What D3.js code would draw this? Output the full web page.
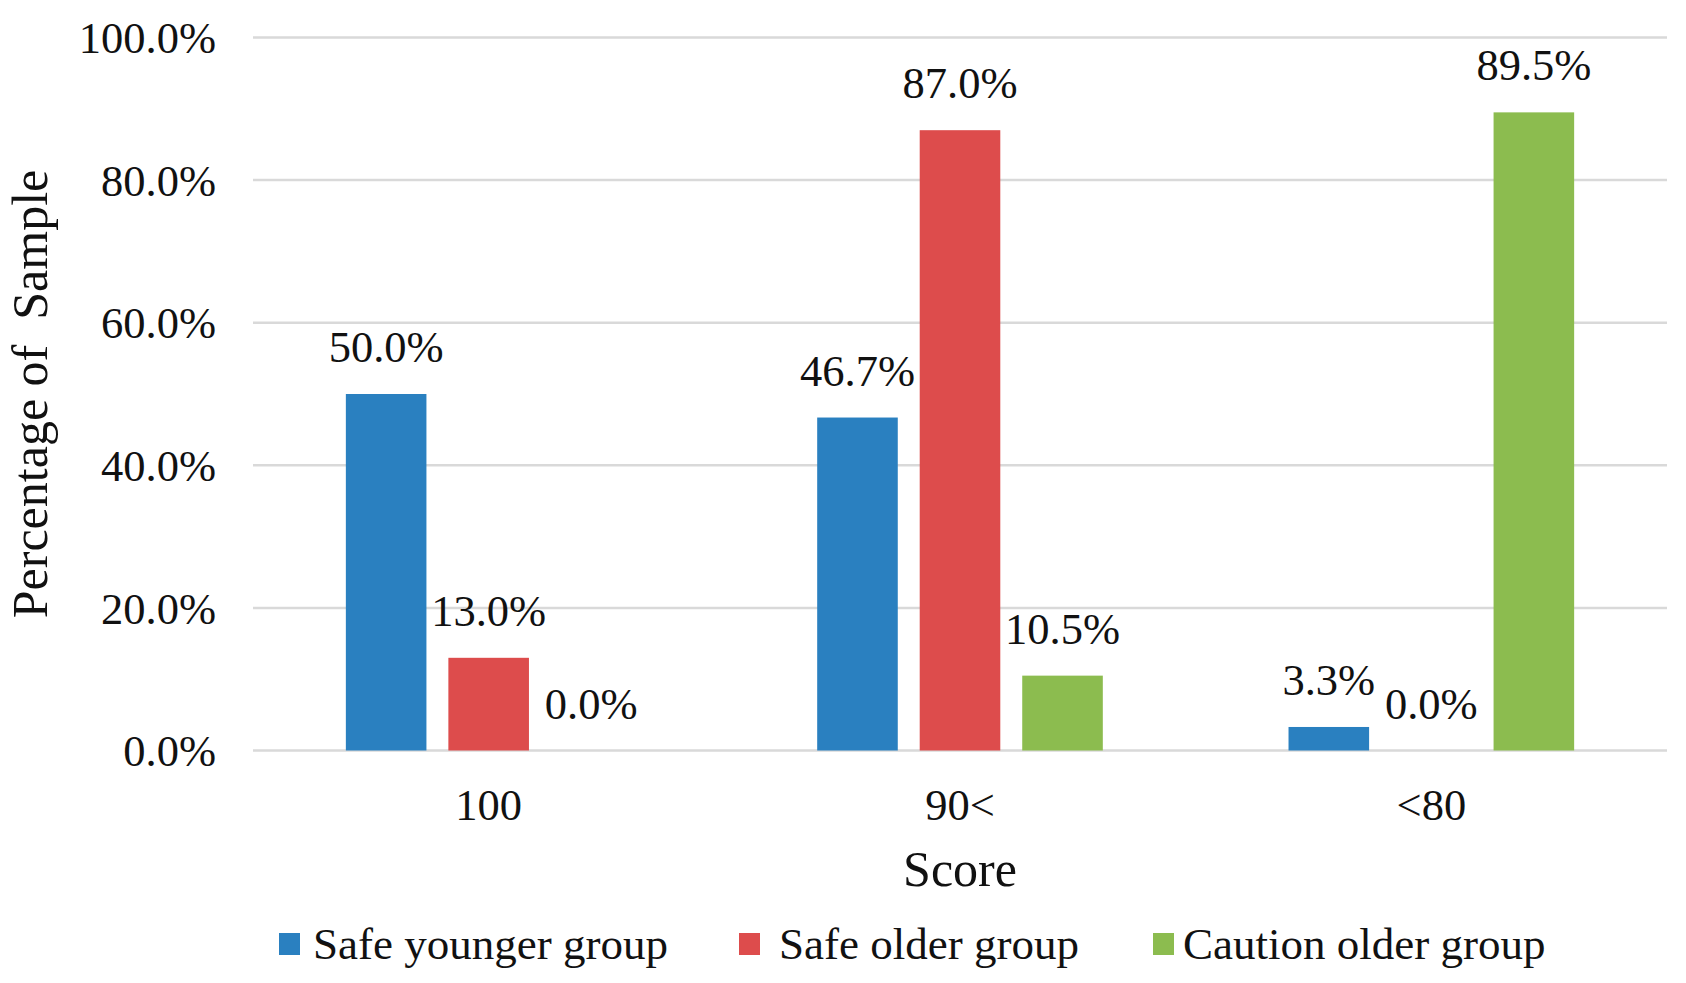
<!DOCTYPE html>
<html><head><meta charset="utf-8">
<script src="https://cdn.jsdelivr.net/npm/d3@7"></script>
<style>body{margin:0;background:#fff}svg{display:block}text{font-family:"Liberation Serif","Times New Roman",serif;fill:#111}</style>
</head><body>
<svg id="c" width="1686" height="983"></svg>
<script>
const categories = ["100", "90<", "<80"];
const seriesNames = ["Safe younger group", "Safe older group", "Caution older group"];
const seriesColors = ["#2A80C0", "#DD4C4C", "#8CBC4F"];
const safeYounger = [50.0, 46.7, 3.3];
const safeOlder = [13.0, 87.0, 0.0];
const cautionOlder = [0.0, 10.5, 89.5];
const yTicks = [0, 20, 40, 60, 80, 100];
const seriesValues = [safeYounger, safeOlder, cautionOlder];

(function () {
const svg = d3.select("#c");
const pl = 253, pr = 1667, pt = 37.5, pb = 750.5;
const fs = 44.5;

const x0 = d3.scaleBand().domain(categories).range([pl, pr]).paddingInner(0.394).paddingOuter(0.197);
const x1 = d3.scaleBand().domain(seriesNames).range([0, x0.bandwidth()]).paddingInner(0.214).paddingOuter(0);
const y = d3.scaleLinear().domain([0, 100]).range([pb, pt]);
const fmt = v => d3.format(".1f")(v) + "%";

// gridlines
svg.append("g").selectAll("line").data(yTicks).join("line")
  .attr("x1", pl).attr("x2", pr)
  .attr("y1", d => y(d)).attr("y2", d => y(d))
  .attr("stroke", "#D9D9D9").attr("stroke-width", 2.5);

// y axis labels
const yAxis = d3.axisLeft(y).tickValues(yTicks).tickFormat(fmt).tickSize(0).tickPadding(0);
const gy = svg.append("g").attr("transform", `translate(${pl - 37},0)`).call(yAxis);
gy.select(".domain").remove();
gy.selectAll("text").attr("font-size", fs).attr("font-family", "Liberation Serif").attr("fill", "#111").attr("dy", "0.34em");

// x axis labels
const xAxis = d3.axisBottom(x0).tickSize(0).tickPadding(0);
const gx = svg.append("g").attr("transform", `translate(0,${pb + 47})`).call(xAxis);
gx.select(".domain").remove();
gx.selectAll("text").attr("font-size", fs).attr("font-family", "Liberation Serif").attr("fill", "#111").attr("dy", "0.5em");

// bars
const rows = [];
categories.forEach((c, i) => seriesNames.forEach((s, j) => rows.push({c, s, j, v: seriesValues[j][i]})));
const g = svg.append("g");
g.selectAll("rect").data(rows).join("rect")
  .attr("x", d => x0(d.c) + x1(d.s)).attr("width", x1.bandwidth())
  .attr("y", d => y(d.v)).attr("height", d => y(0) - y(d.v))
  .attr("fill", d => seriesColors[d.j]);
g.selectAll("text").data(rows).join("text")
  .attr("x", d => x0(d.c) + x1(d.s) + x1.bandwidth() / 2)
  .attr("y", d => y(d.v) - 32)
  .attr("text-anchor", "middle").attr("font-size", fs)
  .text(d => fmt(d.v));

// axis titles
svg.append("text").attr("x", (pl + pr) / 2).attr("y", 886).attr("text-anchor", "middle")
  .attr("font-size", 50).text("Score");
svg.append("text").attr("transform", "translate(47,394) rotate(-90)").attr("text-anchor", "middle")
  .attr("font-size", 50).style("white-space", "pre").text("Percentage of  Sample");

// legend
const legX = [279, 739, 1153];
const legTx = [34, 40, 30];
const leg = svg.append("g").selectAll("g").data(seriesNames).join("g")
  .attr("transform", (d, i) => `translate(${legX[i]},944)`);
leg.append("rect").attr("x", 0).attr("y", -11).attr("width", 21).attr("height", 22).attr("fill", (d, i) => seriesColors[i]);
leg.append("text").attr("x", (d, i) => legTx[i]).attr("y", 15).attr("font-size", 45).text(d => d);
})();
</script>
</body></html>
